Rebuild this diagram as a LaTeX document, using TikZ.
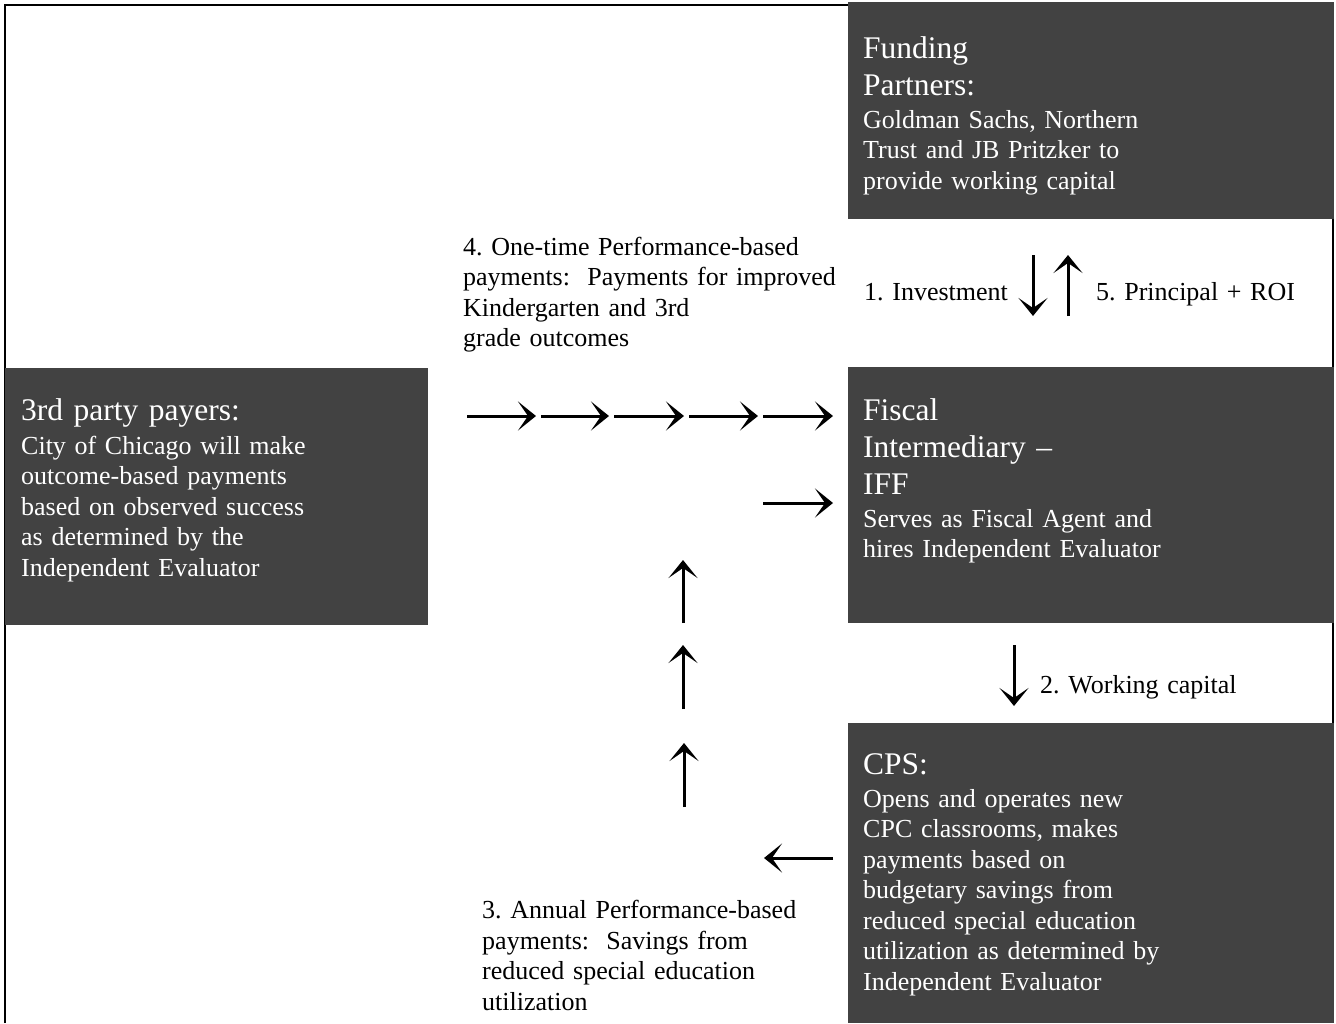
\documentclass[tikz,border=0pt]{standalone}
\usepackage{fontspec}
\setmainfont{Liberation Serif}
\usetikzlibrary{arrows.meta}
\definecolor{boxgray}{RGB}{66,66,66}
\frenchspacing
\tikzset{
  darkbox/.style={fill=boxgray, draw=none, anchor=north west, inner sep=0pt},
  headtxt/.style={anchor=base west, inner sep=0pt, text width=470pt, align=left, text=white,
    font=\fontsize{31.5}{37}\selectfont},
  bodytxt/.style={anchor=base west, inner sep=0pt, text width=470pt, align=left, text=white,
    font=\fontsize{26}{30.5}\selectfont},
  labeltxt/.style={anchor=base west, inner sep=0pt, text width=420pt, align=left, text=black,
    font=\fontsize{26}{30.5}\selectfont},
  flow/.style={-{Stealth[length=18pt,width=29pt,inset=10pt]}, line width=3pt, black},
  frameline/.style={line width=1.6pt, black}
}
\begin{document}
\begin{tikzpicture}[x=1pt,y=-1pt]
\useasboundingbox (0,0) rectangle (1336,1023);
\fill[white] (0,0) rectangle (1336,1023);
% outer frame
\coordinate (fbl) at (5,1023);
\coordinate (ftl) at (5,5);
\coordinate (ftr) at (848,5);
\coordinate (frt) at (1333,219);
\coordinate (frb) at (1333,1023);
\draw[frameline] (fbl) -- (ftl) -- (ftr);
\draw[frameline] (frt) -- (frb);
% dark boxes
\node[darkbox, minimum width=486pt, minimum height=217pt] (fund) at (848,2) {};
\node[darkbox, minimum width=423pt, minimum height=257pt] (third) at (5,368) {};
\node[darkbox, minimum width=486pt, minimum height=256pt] (fiscal) at (848,367) {};
\node[darkbox, minimum width=486pt, minimum height=300pt] (cps) at (848,723) {};
% box texts
\node[headtxt] (fundh) at (863,58.5) {Funding\\Partners:};
\node[bodytxt] (fundb) at (863,128) {Goldman Sachs, Northern\\Trust and JB Pritzker to\\provide working capital};
\node[headtxt] (thirdh) at (21,420.5) {3rd party payers:};
\node[bodytxt] (thirdb) at (21,454) {City of Chicago will make\\outcome-based payments\\based on observed success\\as determined by the\\Independent Evaluator};
\node[headtxt] (fiscalh) at (863,420.5) {Fiscal\\Intermediary –\\IFF};
\node[bodytxt] (fiscalb) at (863,527) {Serves as Fiscal Agent and\\hires Independent Evaluator};
\node[headtxt] (cpsh) at (863,774) {CPS:};
\node[bodytxt] (cpsb) at (863,807) {Opens and operates new\\CPC classrooms, makes\\payments based on\\budgetary savings from\\reduced special education\\utilization as determined by\\Independent Evaluator};
% labels
\node[labeltxt] (lab4) at (463,255) {4. One-time Performance-based\\payments:\ \ Payments for improved\\Kindergarten and 3rd\\grade outcomes};
\node[labeltxt] (lab1) at (864,300) {1. Investment};
\node[labeltxt] (lab5) at (1096,300) {5. Principal + ROI};
\node[labeltxt] (lab2) at (1040,693.5) {2. Working capital};
\node[labeltxt] (lab3) at (482,918.5) {3. Annual Performance-based\\payments:\ \ Savings from\\reduced special education\\utilization};
% arrow end points
\coordinate (a1s) at (1033,255); \coordinate (a1e) at (1033,316);
\coordinate (a5s) at (1068,316); \coordinate (a5e) at (1068,255);
\coordinate (a2s) at (1014,645); \coordinate (a2e) at (1014,706);
\coordinate (h1s) at (467,416); \coordinate (h1e) at (536,416);
\coordinate (h2s) at (541,416); \coordinate (h2e) at (609,416);
\coordinate (h3s) at (614,416); \coordinate (h3e) at (684,416);
\coordinate (h4s) at (689,416); \coordinate (h4e) at (758,416);
\coordinate (h5s) at (763,416); \coordinate (h5e) at (833,416);
\coordinate (h6s) at (763,503); \coordinate (h6e) at (833,503);
\coordinate (u1s) at (683,623); \coordinate (u1e) at (683,560);
\coordinate (u2s) at (683,709); \coordinate (u2e) at (683,645);
\coordinate (u3s) at (684,807); \coordinate (u3e) at (684,743);
\coordinate (l1s) at (833,858); \coordinate (l1e) at (764,858);
% arrows
\draw[flow] (a1s) -- (a1e);
\draw[flow] (a5s) -- (a5e);
\draw[flow] (a2s) -- (a2e);
\draw[flow] (h1s) -- (h1e);
\draw[flow] (h2s) -- (h2e);
\draw[flow] (h3s) -- (h3e);
\draw[flow] (h4s) -- (h4e);
\draw[flow] (h5s) -- (h5e);
\draw[flow] (h6s) -- (h6e);
\draw[flow] (u1s) -- (u1e);
\draw[flow] (u2s) -- (u2e);
\draw[flow] (u3s) -- (u3e);
\draw[flow] (l1s) -- (l1e);
\end{tikzpicture}
\end{document}
